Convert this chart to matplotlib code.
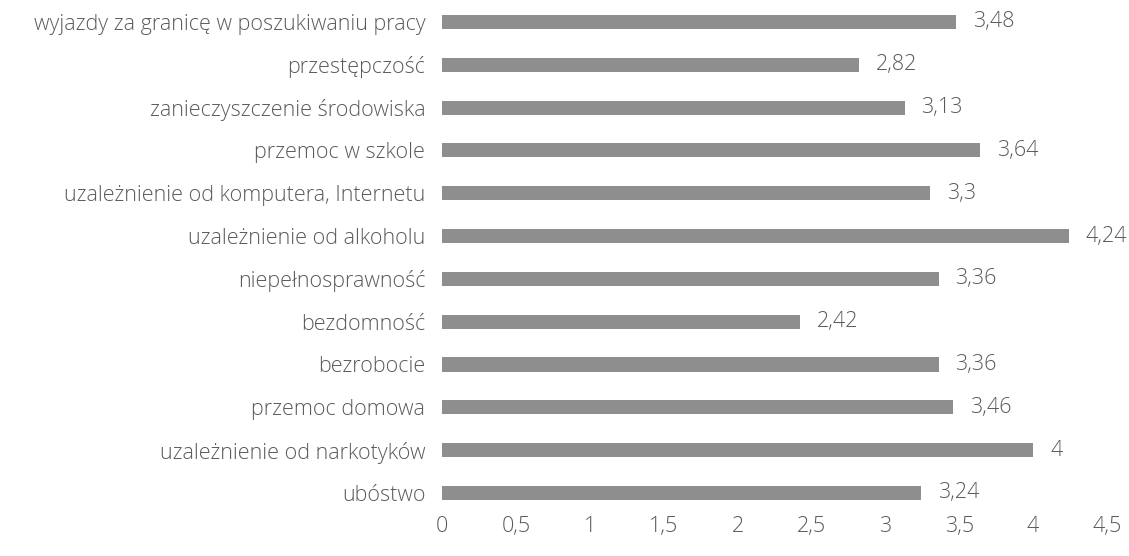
import matplotlib.pyplot as plt
import numpy as np

plt.rcParams['font.family'] = ['Open Sans', 'DejaVu Sans']

labels = ['ubóstwo', 'uzależnienie od narkotyków', 'przemoc domowa', 'bezrobocie',
          'bezdomność', 'niepełnosprawność', 'uzależnienie od alkoholu',
          'uzależnienie od komputera, Internetu', 'przemoc w szkole',
          'zanieczyszczenie środowiska', 'przestępczość',
          'wyjazdy za granicę w poszukiwaniu pracy']
values = [3.24, 4.0, 3.46, 3.36, 2.42, 3.36, 4.24, 3.3, 3.64, 3.13, 2.82, 3.48]
ticks = [0, 0.5, 1, 1.5, 2, 2.5, 3, 3.5, 4, 4.5]

txt = '#5a5a5a'
fs = 15.5
fig = plt.figure(figsize=(11.29, 5.56), dpi=100)
ax = fig.add_axes([0.3915, 0.075, 0.589, 0.924])
y = np.arange(len(labels))
ax.barh(y, values, height=0.33, color='#8e8e8e')
for yi, v in zip(y, values):
    s = ('%g' % v).replace('.', ',')
    ax.text(v + 0.115, yi, s, va='center', ha='left', fontsize=fs, color=txt,
            fontweight='light')
ax.set_xlim(0, 4.5)
ax.set_ylim(-0.5, len(labels) - 0.5)
ax.set_yticks(y)
ax.set_yticklabels(labels, fontsize=fs, color=txt, fontweight='light')
ax.set_xticks(ticks)
ax.set_xticklabels([('%g' % t).replace('.', ',') for t in ticks], fontsize=fs,
                   color=txt, fontweight='light')
ax.tick_params(length=0)
ax.tick_params(axis='y', pad=12)
ax.tick_params(axis='x', pad=1)
for sp in ax.spines.values():
    sp.set_visible(False)
fig.savefig('out.png', dpi=100)
